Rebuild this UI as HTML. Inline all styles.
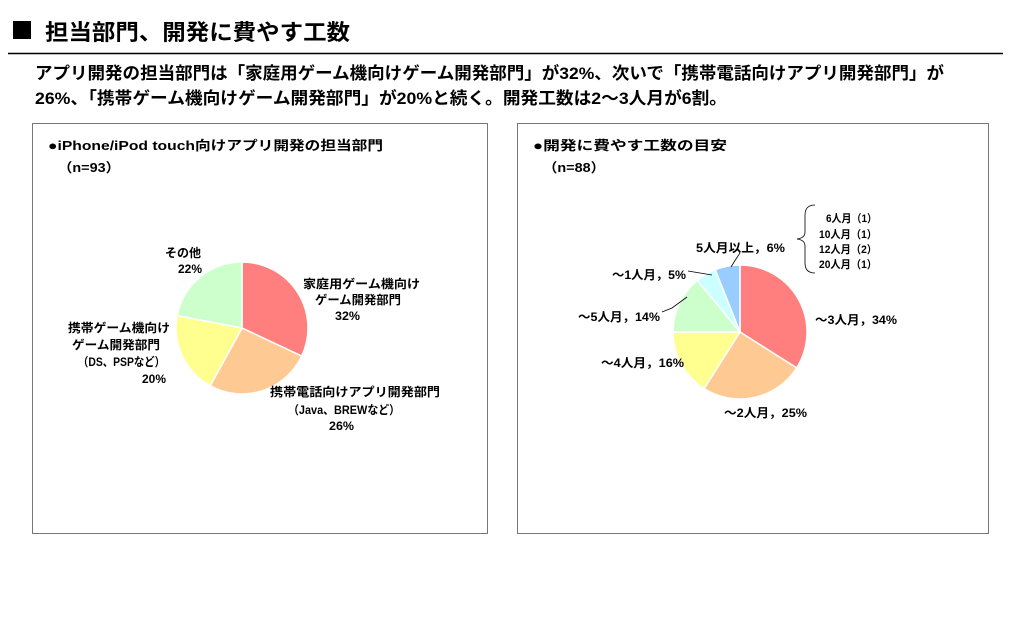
<!DOCTYPE html>
<html><head><meta charset="utf-8"><style>
body{margin:0;background:#fff;}
svg{display:block;}
text{font-family:"Liberation Sans","Noto Sans CJK JP",sans-serif;font-weight:bold;fill:#000;}
</style></head><body>
<svg width="1024" height="642" viewBox="0 0 1024 642" xmlns="http://www.w3.org/2000/svg">
<rect width="1024" height="642" fill="#fff"/>
<rect x="13" y="21" width="18" height="18" fill="#000"/>
<text x="45" y="40" font-size="22" textLength="305" lengthAdjust="spacingAndGlyphs">担当部門、開発に費やす工数</text>
<line x1="8" y1="53.5" x2="1003" y2="53.5" stroke="#000" stroke-width="1.5"/>
<text x="35" y="79" font-size="17" textLength="909" lengthAdjust="spacingAndGlyphs">アプリ開発の担当部門は「家庭用ゲーム機向けゲーム開発部門」が32%、次いで「携帯電話向けアプリ開発部門」が</text>
<text x="35" y="104" font-size="17" textLength="692" lengthAdjust="spacingAndGlyphs">26%、「携帯ゲーム機向けゲーム開発部門」が20%と続く。開発工数は2～3人月が6割。</text>

<rect x="32.5" y="123.5" width="455" height="410" fill="none" stroke="#777" stroke-width="1"/>
<rect x="517.5" y="123.5" width="471" height="410" fill="none" stroke="#777" stroke-width="1"/>

<text x="48" y="150" font-size="13" textLength="335" lengthAdjust="spacingAndGlyphs">●iPhone/iPod touch向けアプリ開発の担当部門</text>
<text x="58" y="172" font-size="13" textLength="62" lengthAdjust="spacingAndGlyphs">（n=93）</text>
<text x="533" y="150" font-size="13" textLength="194" lengthAdjust="spacingAndGlyphs">●開発に費やす工数の目安</text>
<text x="543" y="172" font-size="13" textLength="62" lengthAdjust="spacingAndGlyphs">（n=88）</text>

<g stroke="#fff" stroke-width="1.5">
<path d="M242,328 L242,262 A66,66 0 0 1 301.7,356.1 Z" fill="#FF7F7F"/>
<path d="M242,328 L301.7,356.1 A66,66 0 0 1 210.2,385.8 Z" fill="#FFC993"/>
<path d="M242,328 L210.2,385.8 A66,66 0 0 1 177.2,315.6 Z" fill="#FFFF8F"/>
<path d="M242,328 L177.2,315.6 A66,66 0 0 1 242,262 Z" fill="#CCFFCC"/>
</g>
<g font-size="12">
<text x="183" y="257" text-anchor="middle">その他</text>
<text x="190" y="273" text-anchor="middle">22%</text>
<text x="303" y="288" textLength="117" lengthAdjust="spacingAndGlyphs">家庭用ゲーム機向け</text>
<text x="315" y="304" textLength="86" lengthAdjust="spacingAndGlyphs">ゲーム開発部門</text>
<text x="335" y="320" textLength="25" lengthAdjust="spacingAndGlyphs">32%</text>
<text x="68" y="332" textLength="102" lengthAdjust="spacingAndGlyphs">携帯ゲーム機向け</text>
<text x="72" y="349" textLength="88" lengthAdjust="spacingAndGlyphs">ゲーム開発部門</text>
<text x="78" y="366" textLength="87" lengthAdjust="spacingAndGlyphs">（DS、PSPなど）</text>
<text x="142" y="383" textLength="24" lengthAdjust="spacingAndGlyphs">20%</text>
<text x="270" y="396" textLength="170" lengthAdjust="spacingAndGlyphs">携帯電話向けアプリ開発部門</text>
<text x="288" y="414" textLength="112" lengthAdjust="spacingAndGlyphs">（Java、BREWなど）</text>
<text x="329" y="430" textLength="25" lengthAdjust="spacingAndGlyphs">26%</text>
</g>

<g stroke="#fff" stroke-width="1.5">
<path d="M740,332 L740,265 A67,67 0 0 1 796.6,367.9 Z" fill="#FF7F7F"/>
<path d="M740,332 L796.6,367.9 A67,67 0 0 1 704.1,388.6 Z" fill="#FFC993"/>
<path d="M740,332 L704.1,388.6 A67,67 0 0 1 673,332 Z" fill="#FFFF8F"/>
<path d="M740,332 L673,332 A67,67 0 0 1 697.3,280.4 Z" fill="#CCFFCC"/>
<path d="M740,332 L697.3,280.4 A67,67 0 0 1 715.3,269.7 Z" fill="#CCFFFF"/>
<path d="M740,332 L715.3,269.7 A67,67 0 0 1 740,265 Z" fill="#99CCFF"/>
</g>
<g stroke="#000" stroke-width="0.8" fill="none">
<polyline points="740,253 736,259 731,267"/>
<polyline points="688,271 700,273 712,275"/>
<polyline points="662,312 672,308 687,297"/>
<path d="M815,205 Q805,205 805,215 L805,232 Q805,238 797,239 Q805,240 805,246 L805,263 Q805,273 815,273"/>
</g>
<g font-size="12">
<text x="696" y="252" textLength="89" lengthAdjust="spacingAndGlyphs">5人月以上，6%</text>
<text x="612" y="279" textLength="74" lengthAdjust="spacingAndGlyphs">～1人月，5%</text>
<text x="578" y="321" textLength="82" lengthAdjust="spacingAndGlyphs">～5人月，14%</text>
<text x="601" y="367" textLength="83" lengthAdjust="spacingAndGlyphs">～4人月，16%</text>
<text x="815" y="324" textLength="82" lengthAdjust="spacingAndGlyphs">～3人月，34%</text>
<text x="724" y="417" textLength="83" lengthAdjust="spacingAndGlyphs">～2人月，25%</text>
</g>
<g font-size="11">
<text x="826" y="222" textLength="51" lengthAdjust="spacingAndGlyphs">6人月（1）</text>
<text x="819" y="238" textLength="58" lengthAdjust="spacingAndGlyphs">10人月（1）</text>
<text x="819" y="253" textLength="58" lengthAdjust="spacingAndGlyphs">12人月（2）</text>
<text x="819" y="268" textLength="58" lengthAdjust="spacingAndGlyphs">20人月（1）</text>
</g>
</svg>
</body></html>
